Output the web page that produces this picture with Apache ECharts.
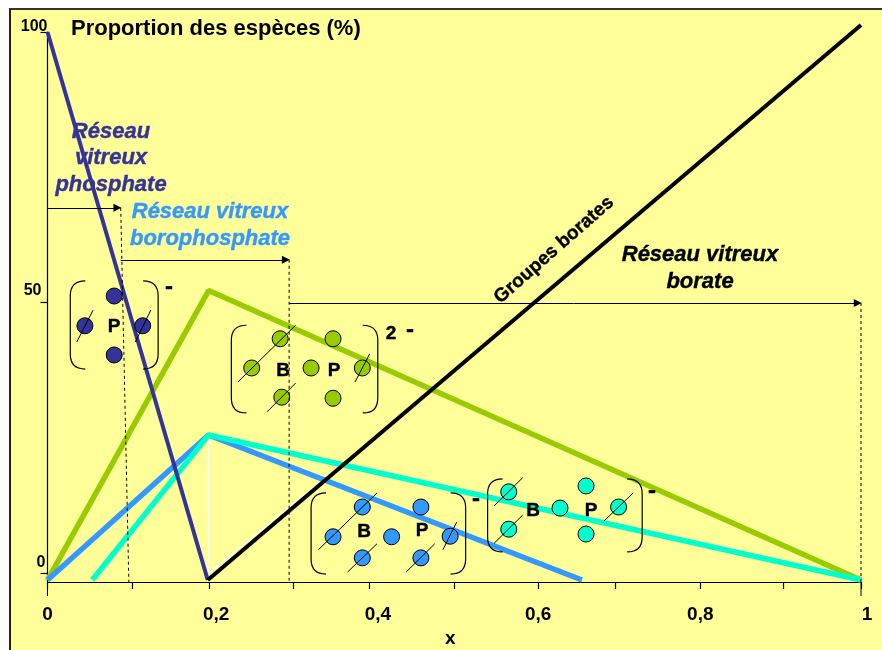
<!DOCTYPE html>
<html>
<head>
<meta charset="utf-8">
<script src="https://cdn.jsdelivr.net/npm/echarts@6/dist/echarts.min.js"></script>
<style>
html, body { margin: 0; padding: 0; background: #fff; }
#frame { position: absolute; left: 9px; top: 8px; width: 873px; height: 642px; box-sizing: border-box; background: #ffff99; border-left: 2px solid #222; border-top: 2px solid #333; }
#main { position: absolute; left: 0; top: 0; width: 882px; height: 650px; }
</style>
</head>
<body>
<div id="frame"></div>
<div id="main"></div>
<script>
// valeurs : [x, proportion]
var phosphate = [[0, 100], [0.197, -1.3]];
var boroVert = [[0, -1.3], [0.198, 52.2], [1, -1.3]];
var boroBleu = [[0, -1.3], [0.198, 25.5], [0.657, -1.3]];
var boroCyan = [[0.055, -1.3], [0.198, 25.5], [1, -1.3]];
var borates = [[0.197, -1.3], [1, 101.3]];
var traitBlanc = [[0.198, 25.5], [0.198, 0], [0.397, 24.4]];

var xTicks = [0, 0.104, 0.199, 0.302, 0.396, 0.5, 0.603, 0.698, 0.802, 0.905, 1];
var xLabels = [0, 0.2, 0.4, 0.6, 0.8, 1];
var yLabels = [0, 50, 100];

// sphères des quatre groupes
var atomesP = [[0.082, 51.2], [0.046, 45.7], [0.117, 45.7], [0.082, 40.3]];
var atomesVert = [[0.286, 43.3], [0.251, 37.9], [0.288, 32.5], [0.351, 43.3], [0.324, 37.9], [0.387, 37.9], [0.351, 32.3]];
var atomesBleu = [[0.387, 12.2], [0.351, 6.7], [0.387, 2.8], [0.423, 6.7], [0.459, 12.2], [0.495, 6.8], [0.459, 2.8]];
var atomesCyan = [[0.567, 15], [0.567, 8.1], [0.63, 12], [0.662, 16.1], [0.662, 7.2], [0.702, 12.2]];

// x1, y1, x2, y2
var barres = [
  [0.036, 42.7, 0.056, 48.6], [0.108, 42.7, 0.127, 48.6],
  [0.234, 35.3, 0.305, 45.8], [0.27, 29.8, 0.305, 35.1], [0.378, 35.3, 0.396, 40.5],
  [0.333, 4.3, 0.405, 14.8], [0.369, 0.2, 0.405, 5.4], [0.441, 0.2, 0.476, 5.4], [0.486, 4.3, 0.503, 9.4],
  [0.549, 12.4, 0.584, 17.6], [0.549, 5.5, 0.584, 10.7], [0.684, 9.6, 0.72, 14.8]
];
// gauche, haut, droite, bas
var crochets = [
  [0.028, 54, 0.136, 37.7],
  [0.226, 45.8, 0.406, 29.6],
  [0.324, 14.8, 0.514, -0.2],
  [0.541, 17.4, 0.731, 3.9]
];
var fleches = [
  [0, 67.5, 0.086, 67.5],
  [0.09, 57.9, 0.293, 57.9],
  [0.297, 49.9, 0.996, 49.9]
];
var pointilles = [
  [0.09, 67.5, 0.1, -1.66],
  [0.297, 57.9, 0.297, -1.66],
  [1, 49.9, 1, -1.66]
];
var grandsTicks = [
  [0, -1.66, 0, -4.25],
  [1, -1.66, 1, -4.25]
];

var myChart = echarts.init(document.getElementById("main"));

function courbe(data, color, width) {
  return {
    type: "line",
    data: data,
    symbol: "none",
    clip: false,
    silent: true,
    lineStyle: { color: color, width: width, cap: "butt", join: "bevel" }
  };
}
function segment(s, type) {
  return {
    type: "line",
    data: [[s[0], s[1]], [s[2], s[3]]],
    symbol: "none",
    clip: false,
    silent: true,
    z: 6,
    lineStyle: { color: "#000", width: 1, type: type || "solid" }
  };
}
function atomes(data, color) {
  return {
    type: "scatter",
    data: data,
    symbol: "circle",
    symbolSize: 16,
    silent: true,
    z: 5,
    itemStyle: { color: color, borderColor: "#000", borderWidth: 1, opacity: 1 }
  };
}
function texte(str, x, y, size, color, style, rotation) {
  return {
    type: "text",
    x: x,
    y: y,
    rotation: rotation || 0,
    z: 100,
    style: {
      text: str,
      x: 0,
      y: 0,
      align: "center",
      verticalAlign: "middle",
      fill: color,
      stroke: color,
      lineWidth: 0.4,
      font: (style || "") + " bold " + size + 'px "Liberation Sans", Arial, sans-serif',
      lineHeight: 26.5
    }
  };
}

var series = [
  courbe(traitBlanc, "#ffffff", 1.5),
  courbe(boroVert, "#99cc00", 5.5),
  courbe(boroBleu, "#3399ff", 5.5),
  courbe(boroCyan, "#00ffcc", 5.5),
  courbe(phosphate, "#333399", 4),
  courbe(borates, "#000000", 4)
];
pointilles.forEach(function (s) { series.push(segment(s, [3, 3])); });
grandsTicks.forEach(function (s) { series.push(segment(s)); });
series.push(atomes(atomesP, "#333399"), atomes(atomesVert, "#99cc00"), atomes(atomesBleu, "#3399ff"), atomes(atomesCyan, "#00ffcc"));
barres.forEach(function (s) {
  var b = segment(s);
  b.z = 7;
  series.push(b);
});
// fleches horizontales
series.push({
  type: "line",
  data: [],
  silent: true,
  markLine: {
    silent: true,
    symbol: ["none", "triangle"],
    symbolSize: 8,
    label: { show: false },
    lineStyle: { color: "#000", width: 1, type: "solid" },
    data: fleches.map(function (s) {
      return [{ coord: [s[0], s[1]] }, { coord: [s[2], s[3]] }];
    })
  }
});
// crochets
series.push({
  type: "custom",
  data: crochets,
  silent: true,
  clip: false,
  z: 6,
  encode: { x: [0, 2], y: [1, 3] },
  renderItem: function (params, api) {
    var a = api.coord([api.value(0), api.value(1)]);
    var b = api.coord([api.value(2), api.value(3)]);
    var r = 15;
    var g = "M" + (a[0] + r) + " " + a[1] + " Q" + a[0] + " " + a[1] + " " + a[0] + " " + (a[1] + r) +
      " L" + a[0] + " " + (b[1] - r) + " Q" + a[0] + " " + b[1] + " " + (a[0] + r) + " " + b[1];
    var d = "M" + (b[0] - r) + " " + a[1] + " Q" + b[0] + " " + a[1] + " " + b[0] + " " + (a[1] + r) +
      " L" + b[0] + " " + (b[1] - r) + " Q" + b[0] + " " + b[1] + " " + (b[0] - r) + " " + b[1];
    return {
      type: "path",
      shape: { pathData: g + " " + d },
      style: { fill: "none", stroke: "#000", lineWidth: 1.2 }
    };
  }
});

myChart.setOption({
  animation: false,
  backgroundColor: "transparent",
  title: {
    text: "Proportion des espèces (%)",
    left: 71,
    top: 18,
    padding: 0,
    textStyle: { fontFamily: "Liberation Sans", fontWeight: "bold", fontSize: 22, color: "#000" }
  },
  grid: { left: 47.5, right: 21, top: 32, bottom: 68, containLabel: false, outerBoundsMode: "none" },
  xAxis: {
    type: "value",
    min: 0,
    max: 1,
    name: "x",
    nameLocation: "middle",
    nameGap: 46,
    nameTextStyle: { fontFamily: "Liberation Sans", fontWeight: "bold", fontSize: 19, color: "#000", padding: [0, 8, 0, 0] },
    splitLine: { show: false },
    axisLine: { onZero: false, lineStyle: { color: "#000", width: 1.2 } },
    axisTick: { customValues: xTicks, length: 7, lineStyle: { color: "#000", width: 1.2 } },
    axisLabel: {
      customValues: xLabels,
      margin: 23,
      hideOverlap: false,
      formatter: function (v) {
        var s = String(v).replace(".", ",");
        return "{x" + String(v).replace(".", "") + "|" + s + "}";
      },
      rich: {
        x0: { fontFamily: "Liberation Sans", fontWeight: "bold", fontSize: 19, color: "#000" },
        x02: { fontFamily: "Liberation Sans", fontWeight: "bold", fontSize: 19, color: "#000", padding: [0, 0, 0, 12] },
        x04: { fontFamily: "Liberation Sans", fontWeight: "bold", fontSize: 19, color: "#000", padding: [0, 0, 0, 10] },
        x06: { fontFamily: "Liberation Sans", fontWeight: "bold", fontSize: 19, color: "#000", padding: [0, 0, 0, 5] },
        x08: { fontFamily: "Liberation Sans", fontWeight: "bold", fontSize: 19, color: "#000", padding: [0, 0, 0, 4] },
        x1: { fontFamily: "Liberation Sans", fontWeight: "bold", fontSize: 19, color: "#000", padding: [0, 0, 0, 12] }
      }
    }
  },
  yAxis: {
    type: "value",
    min: -1.66,
    max: 100,
    splitLine: { show: false },
    axisLine: { show: true, onZero: false, lineStyle: { color: "#000", width: 1.2 } },
    axisTick: { show: true, customValues: yLabels, length: 7, lineStyle: { color: "#000", width: 1.2 } },
    axisLabel: {
      customValues: yLabels,
      margin: 0,
      formatter: function (v) { return "{y" + v + "|" + v + "}"; },
      rich: {
        y0: { fontFamily: "Liberation Sans", fontWeight: "bold", fontSize: 16, color: "#000", padding: [0, 2, 20, 0] },
        y50: { fontFamily: "Liberation Sans", fontWeight: "bold", fontSize: 16, color: "#000", padding: [0, 6, 24, 0] },
        y100: { fontFamily: "Liberation Sans", fontWeight: "bold", fontSize: 16, color: "#000", padding: [0, 0, 10, 0] }
      }
    }
  },
  graphic: [
    texte("Réseau\nvitreux\nphosphate", 111, 158, 22, "#333399", "italic"),
    texte("Réseau vitreux\nborophosphate", 210, 225.5, 22, "#3399ff", "italic"),
    texte("Réseau vitreux\nborate", 700, 268.5, 22, "#000000", "italic"),
    texte("Groupes borates", 554, 250, 19, "#000000", "", 0.72),
    texte("P", 114, 327, 19, "#000"),
    texte("-", 169, 287, 24, "#000"),
    texte("B", 283, 371, 19, "#000"),
    texte("P", 334, 371, 19, "#000"),
    texte("2", 391, 334, 19, "#000"),
    texte("-", 410, 330, 24, "#000"),
    texte("B", 364, 532, 19, "#000"),
    texte("P", 422, 531, 19, "#000"),
    texte("-", 476, 499, 24, "#000"),
    texte("B", 533, 511, 19, "#000"),
    texte("P", 591, 511, 19, "#000"),
    texte("-", 652, 491, 24, "#000")
  ],
  series: series
});
</script>
</body>
</html>
